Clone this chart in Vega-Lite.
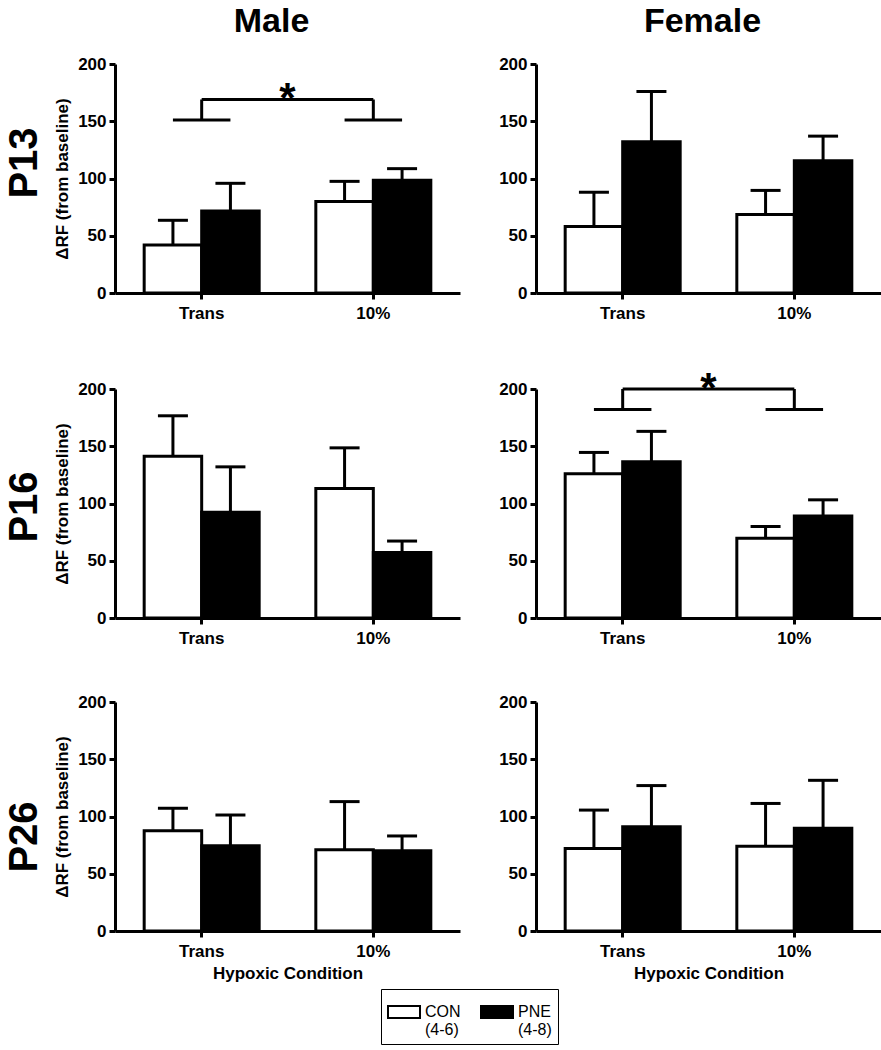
{
  "$schema": "https://vega.github.io/schema/vega-lite/v6.json",
  "background": "white",
  "padding": {"left": 4, "top": 5, "right": 5, "bottom": 5},
  "datasets": {
    "bars": [
      {"age": "P13", "sex": "Male", "cond": "Trans", "group": "CON", "mean": 42, "upper": 63.5},
      {"age": "P13", "sex": "Male", "cond": "Trans", "group": "PNE", "mean": 71.6, "upper": 95.8},
      {"age": "P13", "sex": "Male", "cond": "10%", "group": "CON", "mean": 80, "upper": 97.5},
      {"age": "P13", "sex": "Male", "cond": "10%", "group": "PNE", "mean": 98.4, "upper": 108.6},
      {"age": "P13", "sex": "Female", "cond": "Trans", "group": "CON", "mean": 58, "upper": 88},
      {"age": "P13", "sex": "Female", "cond": "Trans", "group": "PNE", "mean": 132, "upper": 176},
      {"age": "P13", "sex": "Female", "cond": "10%", "group": "CON", "mean": 68.6, "upper": 89.6},
      {"age": "P13", "sex": "Female", "cond": "10%", "group": "PNE", "mean": 115.6, "upper": 137},
      {"age": "P16", "sex": "Male", "cond": "Trans", "group": "CON", "mean": 141.3, "upper": 176.6},
      {"age": "P16", "sex": "Male", "cond": "Trans", "group": "PNE", "mean": 92.3, "upper": 132},
      {"age": "P16", "sex": "Male", "cond": "10%", "group": "CON", "mean": 113, "upper": 148.6},
      {"age": "P16", "sex": "Male", "cond": "10%", "group": "PNE", "mean": 57.2, "upper": 67.2},
      {"age": "P16", "sex": "Female", "cond": "Trans", "group": "CON", "mean": 126, "upper": 144.6},
      {"age": "P16", "sex": "Female", "cond": "Trans", "group": "PNE", "mean": 136.4, "upper": 163},
      {"age": "P16", "sex": "Female", "cond": "10%", "group": "CON", "mean": 69.7, "upper": 79.9},
      {"age": "P16", "sex": "Female", "cond": "10%", "group": "PNE", "mean": 89, "upper": 103.2},
      {"age": "P26", "sex": "Male", "cond": "Trans", "group": "CON", "mean": 87.6, "upper": 107.2},
      {"age": "P26", "sex": "Male", "cond": "Trans", "group": "PNE", "mean": 74.5, "upper": 101.3},
      {"age": "P26", "sex": "Male", "cond": "10%", "group": "CON", "mean": 71, "upper": 113},
      {"age": "P26", "sex": "Male", "cond": "10%", "group": "PNE", "mean": 70, "upper": 83},
      {"age": "P26", "sex": "Female", "cond": "Trans", "group": "CON", "mean": 72, "upper": 105.6},
      {"age": "P26", "sex": "Female", "cond": "Trans", "group": "PNE", "mean": 91, "upper": 127},
      {"age": "P26", "sex": "Female", "cond": "10%", "group": "CON", "mean": 74, "upper": 111.4},
      {"age": "P26", "sex": "Female", "cond": "10%", "group": "PNE", "mean": 89.8, "upper": 131.6}
    ],
    "sig": [
      {"age": "P13", "sex": "Male", "part": "foot", "cond": "Trans", "lo": 151},
      {"age": "P13", "sex": "Male", "part": "foot", "cond": "10%", "lo": 151},
      {"age": "P13", "sex": "Male", "part": "stem", "cond": "Trans", "lo": 151, "hi": 169},
      {"age": "P13", "sex": "Male", "part": "stem", "cond": "10%", "lo": 151, "hi": 169},
      {"age": "P13", "sex": "Male", "part": "top", "cond": "Trans", "cond2": "10%", "lo": 169},
      {"age": "P13", "sex": "Male", "part": "star", "cond": "Trans", "lo": 169},
      {"age": "P16", "sex": "Female", "part": "foot", "cond": "Trans", "lo": 182},
      {"age": "P16", "sex": "Female", "part": "foot", "cond": "10%", "lo": 182},
      {"age": "P16", "sex": "Female", "part": "stem", "cond": "Trans", "lo": 182, "hi": 200},
      {"age": "P16", "sex": "Female", "part": "stem", "cond": "10%", "lo": 182, "hi": 200},
      {"age": "P16", "sex": "Female", "part": "top", "cond": "Trans", "cond2": "10%", "lo": 200},
      {"age": "P16", "sex": "Female", "part": "star", "cond": "Trans", "lo": 200}
    ]
  },
  "spacing": 47,
  "vconcat": [
    {
      "title": {"text": "P13", "orient": "left", "fontSize": 40, "anchor": "middle", "offset": 9},
      "spacing": 38,
      "hconcat": [
        {
          "width": 345, "height": 229,
          "title": {"text": "Male", "fontSize": 34, "anchor": "middle", "offset": 16, "dx": -16},
          "layer": [
            {
              "data": {"name": "bars"},
              "transform": [{"filter": "datum.age == 'P13' && datum.sex == 'Male'"}],
              "encoding": {
                "x": {"field": "cond", "type": "nominal", "scale": {"domain": ["Trans", "10%"], "paddingInner": 0.33, "paddingOuter": 0.17}, "axis": {"title": null}},
                "xOffset": {"field": "group", "type": "nominal", "scale": {"domain": ["CON", "PNE"]}}
              },
              "layer": [
                {"mark": {"type": "bar", "stroke": "black", "strokeWidth": 3},
                 "encoding": {
                   "y": {"field": "mean", "type": "quantitative", "scale": {"domain": [0, 200], "nice": false}, "axis": {"title": "ΔRF (from baseline)", "values": [0, 50, 100, 150, 200]}},
                   "fill": {"field": "group", "type": "nominal", "scale": {"domain": ["CON", "PNE"], "range": ["white", "black"]},
                     "legend": {"title": null, "orient": "none", "legendX": 266, "legendY": 925, "direction": "horizontal",
                       "symbolType": "M-1,-0.375H1V0.375H-1Z", "symbolSize": 1024, "symbolStrokeColor": "black", "symbolStrokeWidth": 2, "symbolOpacity": 1,
                       "labelFontSize": 16, "labelFont": "Liberation Sans", "labelColor": "black", "labelLimit": 200,
                       "labelExpr": "datum.label == 'CON' ? ['CON', '(4-6)'] : ['PNE', '(4-8)']",
                       "strokeColor": "black", "padding": 6, "columnPadding": 16}}
                 }},
                {"mark": {"type": "rule", "color": "black", "strokeWidth": 3},
                 "encoding": {"y": {"field": "mean", "type": "quantitative", "axis": {"title": "ΔRF (from baseline)"}}, "y2": {"field": "upper"}}},
                {"mark": {"type": "tick", "color": "black", "thickness": 3, "size": 30, "opacity": 1},
                 "encoding": {"y": {"field": "upper", "type": "quantitative", "axis": {"title": "ΔRF (from baseline)"}}}}
              ]
            },
            {
              "data": {"name": "sig"},
              "transform": [{"filter": "datum.age == 'P13' && datum.sex == 'Male'"}],
              "layer": [
                {"transform": [{"filter": "datum.part == 'foot'"}],
                 "mark": {"type": "rule", "color": "black", "strokeWidth": 3},
                 "encoding": {"x": {"field": "cond", "type": "nominal", "bandPosition": 0.25, "axis": {"title": null}}, "x2": {"field": "cond", "bandPosition": 0.75}, "y": {"field": "lo", "type": "quantitative", "axis": {"title": "ΔRF (from baseline)"}}}},
                {"transform": [{"filter": "datum.part == 'stem'"}],
                 "mark": {"type": "rule", "color": "black", "strokeWidth": 3},
                 "encoding": {"x": {"field": "cond", "type": "nominal", "axis": {"title": null}}, "y": {"field": "lo", "type": "quantitative", "axis": {"title": "ΔRF (from baseline)"}}, "y2": {"field": "hi"}}},
                {"transform": [{"filter": "datum.part == 'top'"}],
                 "mark": {"type": "rule", "color": "black", "strokeWidth": 3},
                 "encoding": {"x": {"field": "cond", "type": "nominal", "bandPosition": 0.5, "axis": {"title": null}}, "x2": {"field": "cond2", "bandPosition": 0.5}, "y": {"field": "lo", "type": "quantitative", "axis": {"title": "ΔRF (from baseline)"}}}},
                {"transform": [{"filter": "datum.part == 'star'"}],
                 "mark": {"type": "text", "text": "*", "fontSize": 42, "fontWeight": "bold", "color": "black", "baseline": "alphabetic", "dy": 13},
                 "encoding": {"x": {"field": "cond", "type": "nominal", "bandPosition": 1.246, "axis": {"title": null}}, "y": {"field": "lo", "type": "quantitative", "axis": {"title": "ΔRF (from baseline)"}}}}
              ]
            }
          ]
        },
        {
          "width": 345, "height": 229,
          "title": {"text": "Female", "fontSize": 34, "anchor": "middle", "offset": 16, "dx": -6},
          "data": {"name": "bars"},
          "transform": [{"filter": "datum.age == 'P13' && datum.sex == 'Female'"}],
          "encoding": {
            "x": {"field": "cond", "type": "nominal", "scale": {"domain": ["Trans", "10%"], "paddingInner": 0.33, "paddingOuter": 0.17}, "axis": {"title": null}},
            "xOffset": {"field": "group", "type": "nominal", "scale": {"domain": ["CON", "PNE"]}}
          },
          "layer": [
            {"mark": {"type": "bar", "stroke": "black", "strokeWidth": 3},
             "encoding": {
               "y": {"field": "mean", "type": "quantitative", "scale": {"domain": [0, 200], "nice": false}, "axis": {"title": null, "values": [0, 50, 100, 150, 200]}},
               "fill": {"field": "group", "type": "nominal", "scale": {"domain": ["CON", "PNE"], "range": ["white", "black"]}}
             }},
            {"mark": {"type": "rule", "color": "black", "strokeWidth": 3},
             "encoding": {"y": {"field": "mean", "type": "quantitative", "axis": {"title": null}}, "y2": {"field": "upper"}}},
            {"mark": {"type": "tick", "color": "black", "thickness": 3, "size": 30, "opacity": 1},
             "encoding": {"y": {"field": "upper", "type": "quantitative", "axis": {"title": null}}}}
          ]
        }
      ]
    },
    {
      "title": {"text": "P16", "orient": "left", "fontSize": 40, "anchor": "middle", "offset": 9},
      "spacing": 38,
      "hconcat": [
        {
          "width": 345, "height": 229,
          "data": {"name": "bars"},
          "transform": [{"filter": "datum.age == 'P16' && datum.sex == 'Male'"}],
          "encoding": {
            "x": {"field": "cond", "type": "nominal", "scale": {"domain": ["Trans", "10%"], "paddingInner": 0.33, "paddingOuter": 0.17}, "axis": {"title": null}},
            "xOffset": {"field": "group", "type": "nominal", "scale": {"domain": ["CON", "PNE"]}}
          },
          "layer": [
            {"mark": {"type": "bar", "stroke": "black", "strokeWidth": 3},
             "encoding": {
               "y": {"field": "mean", "type": "quantitative", "scale": {"domain": [0, 200], "nice": false}, "axis": {"title": "ΔRF (from baseline)", "values": [0, 50, 100, 150, 200]}},
               "fill": {"field": "group", "type": "nominal", "scale": {"domain": ["CON", "PNE"], "range": ["white", "black"]}}
             }},
            {"mark": {"type": "rule", "color": "black", "strokeWidth": 3},
             "encoding": {"y": {"field": "mean", "type": "quantitative", "axis": {"title": "ΔRF (from baseline)"}}, "y2": {"field": "upper"}}},
            {"mark": {"type": "tick", "color": "black", "thickness": 3, "size": 30, "opacity": 1},
             "encoding": {"y": {"field": "upper", "type": "quantitative", "axis": {"title": "ΔRF (from baseline)"}}}}
          ]
        },
        {
          "width": 345, "height": 229,
          "layer": [
            {
              "data": {"name": "bars"},
              "transform": [{"filter": "datum.age == 'P16' && datum.sex == 'Female'"}],
              "encoding": {
                "x": {"field": "cond", "type": "nominal", "scale": {"domain": ["Trans", "10%"], "paddingInner": 0.33, "paddingOuter": 0.17}, "axis": {"title": null}},
                "xOffset": {"field": "group", "type": "nominal", "scale": {"domain": ["CON", "PNE"]}}
              },
              "layer": [
                {"mark": {"type": "bar", "stroke": "black", "strokeWidth": 3},
                 "encoding": {
                   "y": {"field": "mean", "type": "quantitative", "scale": {"domain": [0, 200], "nice": false}, "axis": {"title": null, "values": [0, 50, 100, 150, 200]}},
                   "fill": {"field": "group", "type": "nominal", "scale": {"domain": ["CON", "PNE"], "range": ["white", "black"]}}
                 }},
                {"mark": {"type": "rule", "color": "black", "strokeWidth": 3},
                 "encoding": {"y": {"field": "mean", "type": "quantitative", "axis": {"title": null}}, "y2": {"field": "upper"}}},
                {"mark": {"type": "tick", "color": "black", "thickness": 3, "size": 30, "opacity": 1},
                 "encoding": {"y": {"field": "upper", "type": "quantitative", "axis": {"title": null}}}}
              ]
            },
            {
              "data": {"name": "sig"},
              "transform": [{"filter": "datum.age == 'P16' && datum.sex == 'Female'"}],
              "layer": [
                {"transform": [{"filter": "datum.part == 'foot'"}],
                 "mark": {"type": "rule", "color": "black", "strokeWidth": 3},
                 "encoding": {"x": {"field": "cond", "type": "nominal", "bandPosition": 0.25, "axis": {"title": null}}, "x2": {"field": "cond", "bandPosition": 0.75}, "y": {"field": "lo", "type": "quantitative", "axis": {"title": null}}}},
                {"transform": [{"filter": "datum.part == 'stem'"}],
                 "mark": {"type": "rule", "color": "black", "strokeWidth": 3},
                 "encoding": {"x": {"field": "cond", "type": "nominal", "axis": {"title": null}}, "y": {"field": "lo", "type": "quantitative", "axis": {"title": null}}, "y2": {"field": "hi"}}},
                {"transform": [{"filter": "datum.part == 'top'"}],
                 "mark": {"type": "rule", "color": "black", "strokeWidth": 3},
                 "encoding": {"x": {"field": "cond", "type": "nominal", "bandPosition": 0.5, "axis": {"title": null}}, "x2": {"field": "cond2", "bandPosition": 0.5}, "y": {"field": "lo", "type": "quantitative", "axis": {"title": null}}}},
                {"transform": [{"filter": "datum.part == 'star'"}],
                 "mark": {"type": "text", "text": "*", "fontSize": 42, "fontWeight": "bold", "color": "black", "baseline": "alphabetic", "dy": 13},
                 "encoding": {"x": {"field": "cond", "type": "nominal", "bandPosition": 1.246, "axis": {"title": null}}, "y": {"field": "lo", "type": "quantitative", "axis": {"title": null}}}}
              ]
            }
          ]
        }
      ]
    },
    {
      "title": {"text": "P26", "orient": "left", "fontSize": 40, "anchor": "middle", "offset": 9},
      "spacing": 38,
      "hconcat": [
        {
          "width": 345, "height": 229,
          "data": {"name": "bars"},
          "transform": [{"filter": "datum.age == 'P26' && datum.sex == 'Male'"}],
          "encoding": {
            "x": {"field": "cond", "type": "nominal", "scale": {"domain": ["Trans", "10%"], "paddingInner": 0.33, "paddingOuter": 0.17}, "axis": {"title": "Hypoxic Condition"}},
            "xOffset": {"field": "group", "type": "nominal", "scale": {"domain": ["CON", "PNE"]}}
          },
          "layer": [
            {"mark": {"type": "bar", "stroke": "black", "strokeWidth": 3},
             "encoding": {
               "y": {"field": "mean", "type": "quantitative", "scale": {"domain": [0, 200], "nice": false}, "axis": {"title": "ΔRF (from baseline)", "values": [0, 50, 100, 150, 200]}},
               "fill": {"field": "group", "type": "nominal", "scale": {"domain": ["CON", "PNE"], "range": ["white", "black"]}}
             }},
            {"mark": {"type": "rule", "color": "black", "strokeWidth": 3},
             "encoding": {"y": {"field": "mean", "type": "quantitative", "axis": {"title": "ΔRF (from baseline)"}}, "y2": {"field": "upper"}}},
            {"mark": {"type": "tick", "color": "black", "thickness": 3, "size": 30, "opacity": 1},
             "encoding": {"y": {"field": "upper", "type": "quantitative", "axis": {"title": "ΔRF (from baseline)"}}}}
          ]
        },
        {
          "width": 345, "height": 229,
          "data": {"name": "bars"},
          "transform": [{"filter": "datum.age == 'P26' && datum.sex == 'Female'"}],
          "encoding": {
            "x": {"field": "cond", "type": "nominal", "scale": {"domain": ["Trans", "10%"], "paddingInner": 0.33, "paddingOuter": 0.17}, "axis": {"title": "Hypoxic Condition"}},
            "xOffset": {"field": "group", "type": "nominal", "scale": {"domain": ["CON", "PNE"]}}
          },
          "layer": [
            {"mark": {"type": "bar", "stroke": "black", "strokeWidth": 3},
             "encoding": {
               "y": {"field": "mean", "type": "quantitative", "scale": {"domain": [0, 200], "nice": false}, "axis": {"title": null, "values": [0, 50, 100, 150, 200]}},
               "fill": {"field": "group", "type": "nominal", "scale": {"domain": ["CON", "PNE"], "range": ["white", "black"]}}
             }},
            {"mark": {"type": "rule", "color": "black", "strokeWidth": 3},
             "encoding": {"y": {"field": "mean", "type": "quantitative", "axis": {"title": null}}, "y2": {"field": "upper"}}},
            {"mark": {"type": "tick", "color": "black", "thickness": 3, "size": 30, "opacity": 1},
             "encoding": {"y": {"field": "upper", "type": "quantitative", "axis": {"title": null}}}}
          ]
        }
      ]
    }
  ],
  "config": {
    "font": "Liberation Sans",
    "view": {"stroke": null},
    "title": {"font": "Liberation Sans", "fontWeight": "bold", "color": "black"},
    "axis": {
      "grid": false,
      "domainColor": "black", "domainWidth": 3,
      "tickColor": "black", "tickWidth": 3, "tickSize": 6,
      "labelFont": "Liberation Sans", "labelFontWeight": "bold", "labelFontSize": 17, "labelColor": "black",
      "titleFont": "Liberation Sans", "titleFontWeight": "bold", "titleFontSize": 17, "titleColor": "black"
    },
    "axisX": {"labelAngle": 0, "labelPadding": 6, "titlePadding": 6},
    "axisY": {"labelPadding": 3, "titlePadding": 6}
  }
}
